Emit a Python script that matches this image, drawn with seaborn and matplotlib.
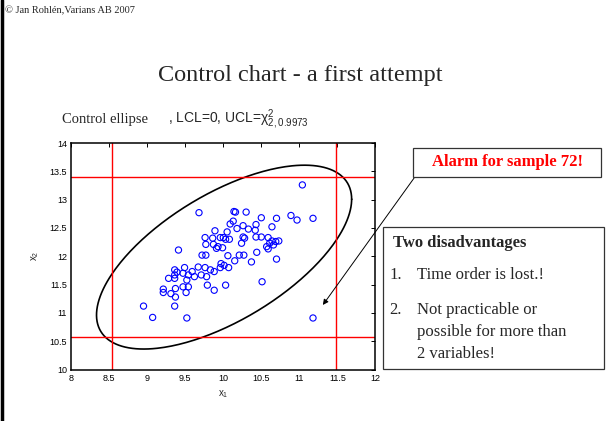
import numpy as np
import pandas as pd
import matplotlib
matplotlib.use("Agg")
import matplotlib.pyplot as plt
from matplotlib.patches import Rectangle
import seaborn as sns

# sample points (x1, x2)
x1 = [9.68, 10.14, 10.13, 10.09, 9.89, 10.05, 9.76, 9.86, 9.96, 10.00,
      10.08, 10.03, 9.77, 9.87, 9.93, 9.41, 9.99, 11.04, 10.16, 10.30,
      10.50, 10.70, 10.89, 10.97, 11.18, 10.18, 10.26, 10.33, 10.43, 10.42,
      10.64, 10.26, 10.28, 10.43, 10.50, 10.59, 10.64, 10.69, 10.73, 10.61,
      10.24, 10.57, 10.66, 9.72, 9.77, 9.91, 10.06, 10.15, 9.97, 10.01,
      10.07, 9.96, 9.67, 9.76, 9.83, 9.88, 9.78, 9.71, 9.62, 9.59,
      9.49, 9.36, 9.39, 9.36, 9.47, 9.54, 9.52, 9.28, 9.36, 9.21,
      9.21, 9.31, 9.37, 9.37, 9.47, 9.54, 9.51, 9.79, 9.88, 10.03,
      8.95, 9.36, 9.07, 9.52, 10.21, 10.27, 10.37, 10.44, 10.59, 10.70,
      10.51, 11.18]
x2 = [12.77, 12.79, 12.62, 12.57, 12.45, 12.43, 12.33, 12.32, 12.33, 12.33,
      12.30, 12.30, 12.21, 12.21, 12.17, 12.11, 12.15, 13.26, 12.78, 12.78,
      12.68, 12.67, 12.72, 12.64, 12.67, 12.49, 12.54, 12.48, 12.56, 12.46,
      12.52, 12.34, 12.32, 12.34, 12.34, 12.33, 12.27, 12.26, 12.27, 12.23,
      12.23, 12.17, 12.20, 12.02, 12.02, 12.14, 12.01, 11.92, 11.87, 11.84,
      11.80, 11.80, 11.81, 11.80, 11.76, 11.73, 11.64, 11.67, 11.64, 11.73,
      11.80, 11.76, 11.72, 11.67, 11.70, 11.67, 11.58, 11.61, 11.61, 11.42,
      11.36, 11.34, 11.43, 11.28, 11.46, 11.46, 11.36, 11.49, 11.40, 11.49,
      11.12, 11.12, 10.92, 10.91, 12.02, 12.02, 11.90, 12.07, 12.13, 11.95,
      11.55, 10.91]

# control limits for the individual variables
x1_limits = [8.54, 11.48]
x2_limits = [10.57, 13.40]

# control ellipse: centre, std devs, correlation, chi2(2, 0.9973)
ell_center = [10.01, 11.985]
ell_std = [0.488, 0.472]
ell_rho = 0.63
ucl = 11.83

x_ticks = [8, 8.5, 9, 9.5, 10, 10.5, 11, 11.5, 12]
y_ticks = [10, 10.5, 11, 11.5, 12, 12.5, 13, 13.5, 14]

df = pd.DataFrame({"x1": x1, "x2": x2})

sns.set_theme(style="white")
plt.rcParams["font.family"] = ["Liberation Sans", "DejaVu Sans"]
plt.rcParams["mathtext.fontset"] = "custom"
plt.rcParams["mathtext.rm"] = "Liberation Sans"
plt.rcParams["mathtext.it"] = "Liberation Sans:italic"
serif = ["Liberation Serif", "DejaVu Serif"]

fig = plt.figure(figsize=(6.08, 4.21), dpi=100)
ax = fig.add_axes([0.1173, 0.1223, 0.5, 0.538])

# ellipse curve
cov = np.array([[ell_std[0] ** 2, ell_rho * ell_std[0] * ell_std[1]],
                [ell_rho * ell_std[0] * ell_std[1], ell_std[1] ** 2]])
L = np.linalg.cholesky(cov)
t = np.linspace(0, 2 * np.pi, 300)
pts = np.array(ell_center)[:, None] + np.sqrt(ucl) * L @ np.vstack([np.cos(t), np.sin(t)])
ax.plot(pts[0], pts[1], color="black", lw=1.2)

for v in x1_limits:
    ax.axvline(v, color="red", lw=1)
for v in x2_limits:
    ax.axhline(v, color="red", lw=1)

sns.scatterplot(data=df, x="x1", y="x2", ax=ax, marker="o", s=20,
                facecolors="none", edgecolor="blue", linewidth=0.8)

ax.set_xlim(8, 12)
ax.set_ylim(10, 14)
ax.set_xticks(x_ticks)
ax.set_xticklabels([f"{v:g}" for v in x_ticks])
ax.set_yticks(y_ticks)
ax.set_yticklabels([f"{v:g}" for v in y_ticks])
ax.tick_params(direction="in", top=True, right=True, length=3, width=0.7,
               labelsize=6.5, pad=3, colors="black")
for sp in ax.spines.values():
    sp.set_color("black")
    sp.set_linewidth(1.1)
ax.set_xlabel("x$_1$", fontsize=7, labelpad=4)
ax.set_ylabel("x$_2$", fontsize=7, labelpad=6)

# arrow from the alarm box to sample 72
ax.annotate("", xy=(11.31, 11.14), xycoords="data",
            xytext=(0.681, 0.577), textcoords="figure fraction",
            arrowprops=dict(arrowstyle="-|>", color="black", lw=0.7,
                            mutation_scale=8, shrinkA=0, shrinkB=0))

# texts
fig.text(0.008, 0.974, "© Jan Rohlén,Varians AB 2007", family=serif,
         fontsize=7.5, va="center", ha="left")
fig.text(0.494, 0.82, "Control chart - a first attempt", family=serif,
         fontsize=17.5, va="center", ha="center")
fig.text(0.102, 0.715, "Control ellipse", family=serif, fontsize=10.5,
         va="center", ha="left")
fig.text(0.277, 0.715, r", LCL=0, UCL=$\mathrm{χ}^2_{2,0.9973}$", fontsize=10,
         va="center", ha="left")

# alarm box
fig.add_artist(Rectangle((413 / 608, 1 - 177 / 421), 188 / 608, 29 / 421,
                         transform=fig.transFigure, fill=False,
                         edgecolor="#333333", lw=0.9))
fig.text(507 / 608, 1 - 162 / 421, "Alarm for sample 72!", family=serif,
         fontsize=12, fontweight="bold", color="red", va="center", ha="center")

# disadvantages box
fig.add_artist(Rectangle((383 / 608, 1 - 369 / 421), 221 / 608, 142 / 421,
                         transform=fig.transFigure, fill=False,
                         edgecolor="#333333", lw=0.9))
fig.text(393 / 608, 1 - 243 / 421, "Two disadvantages", family=serif,
         fontsize=12, fontweight="bold", va="center", ha="left")
fig.text(389 / 608, 1 - 275 / 421, "1.", family=serif, fontsize=12,
         va="center", ha="left")
fig.text(417 / 608, 1 - 275 / 421, "Time order is lost.!", family=serif,
         fontsize=12, va="center", ha="left")
fig.text(389 / 608, 1 - 310 / 421, "2.", family=serif, fontsize=12,
         va="center", ha="left")
for i, line in enumerate(["Not practicable or", "possible for more than",
                          "2 variables!"]):
    fig.text(417 / 608, 1 - (310 + 22 * i) / 421, line, family=serif,
             fontsize=12, va="center", ha="left")

# slide frame on the left edge
fig.add_artist(plt.Line2D([0.003, 0.003], [0, 1], transform=fig.transFigure,
                          color="black", lw=2.5))

fig.savefig("out.png", dpi=100)
